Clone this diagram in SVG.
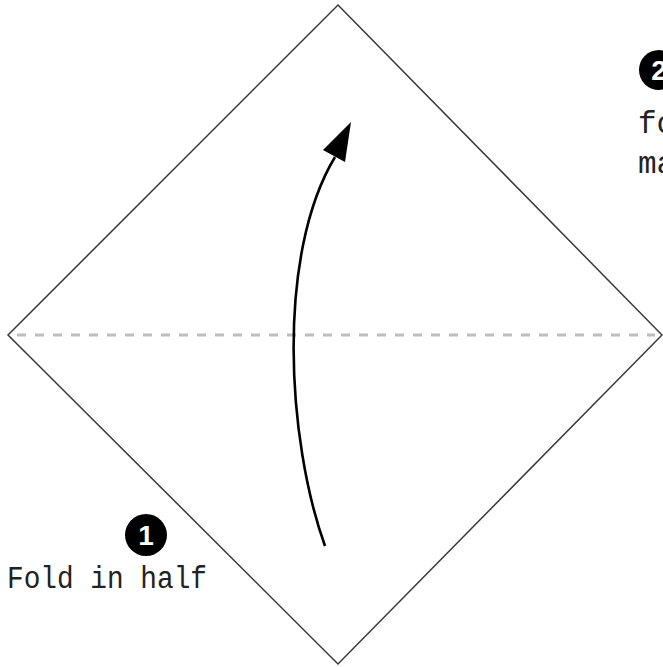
<svg xmlns="http://www.w3.org/2000/svg" width="663" height="667" viewBox="0 0 663 667">
<style>
.edge{fill:none;stroke:#3a3a3a;stroke-width:1.5}
.fold{fill:none;stroke:#bdbdbd;stroke-width:3;stroke-dasharray:9 9}
.arrow{fill:none;stroke:#000;stroke-width:2.6}
.lbl{font-family:"Liberation Mono","DejaVu Sans Mono",monospace;font-size:31px;fill:#222}
.num{font-family:"Liberation Sans",Arial,sans-serif;font-weight:bold;font-size:28px;fill:#fff;text-anchor:middle}
</style>
<rect width="663" height="667" fill="#fff"/>
<g id="paper">
<polygon class="edge" points="338,5 662,335 338,664 8,335"/>
</g>
<g id="connectors">
<line class="fold" x1="17" y1="335" x2="655" y2="335"/>
<path class="arrow" d="M325,546 C287,440 276,255 335,157"/>
<polygon points="351,122 323,150 345,162" fill="#000"/>
</g>
<g id="step1">
<circle cx="146" cy="535" r="21" fill="#000"/>
<text class="num" x="146" y="545">1</text>
<text class="lbl" x="7" y="588" textLength="200" lengthAdjust="spacingAndGlyphs">Fold in half</text>
</g>
<g id="step2">
<circle cx="659" cy="70" r="20" fill="#000"/>
<text class="num" x="659" y="80">2</text>
<text class="lbl" x="638" y="133">fo</text>
<text class="lbl" x="638" y="173">ma</text>
</g>
</svg>
